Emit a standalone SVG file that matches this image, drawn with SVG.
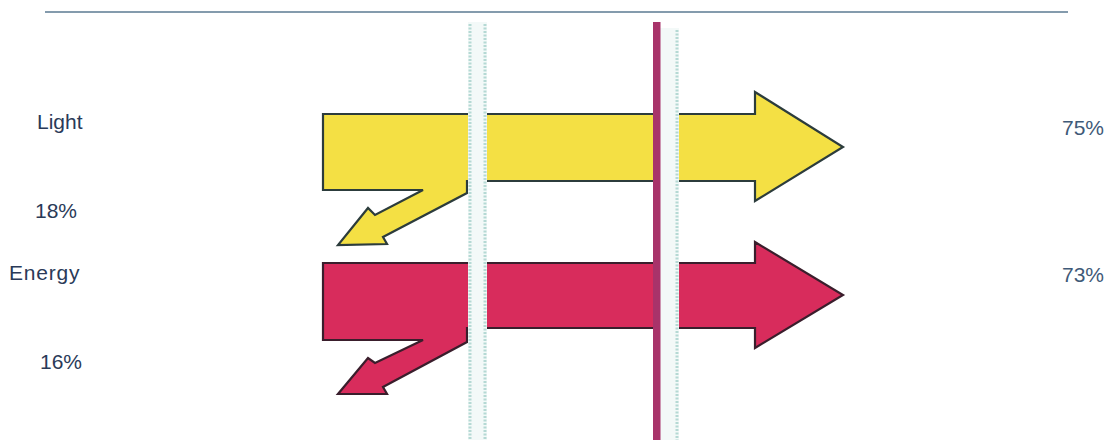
<svg xmlns="http://www.w3.org/2000/svg" width="1108" height="440" viewBox="0 0 1108 440">
  <style>
    .lbl { font-family: "Liberation Sans", Arial, sans-serif; font-size: 21px; fill: #2a3a58; }
    .pct { font-family: "Liberation Sans", Arial, sans-serif; font-size: 21px; fill: #3f5a78; }
    .yel { fill: #f4e044; stroke: #2c3c3c; stroke-width: 2.2; stroke-linejoin: miter; }
    .red { fill: #d82c5c; stroke: #3a1e2c; stroke-width: 2.2; stroke-linejoin: miter; }
    .band { fill: #f3f9f8; }
    .bandEdge { stroke: #b5d9d4; stroke-width: 3; stroke-dasharray: 2 1.5; fill: none; }
  </style>
  <rect width="1108" height="440" fill="#ffffff"/>
  <line x1="45" y1="12" x2="1068" y2="12" stroke="#5b7a92" stroke-width="1.6"/>

  <g id="flows">
    <g id="light-arrow">
      <polygon class="yel" points="323,114 755,114 755,92 843,147 755,201 755,181 467,181 467,193 383,237 387,244 338,245 368,208 375,215 423,190 323,190"/>
    </g>
    <g id="energy-arrow">
      <polygon class="red" points="323,263 755,263 755,242 843,295 755,348 755,328 467,328 467,342 383,387 387,394 338,394 368,358 375,363 423,340 323,340"/>
    </g>
  </g>

  <g id="left-pane">
    <rect class="band" x="468" y="22" width="19" height="418"/>
    <line class="bandEdge" x1="470" y1="24" x2="470" y2="440"/>
    <line class="bandEdge" x1="485" y1="24" x2="485" y2="440"/>
  </g>
  <g id="right-pane">
    <rect class="band" x="660" y="28" width="19" height="412"/>
    <line class="bandEdge" x1="677" y1="30" x2="677" y2="440"/>
  </g>
  <g id="divider">
    <rect x="653" y="22" width="7.5" height="418" fill="#a8336a"/>
  </g>

  <g id="label-light"><text class="lbl" x="37" y="129">Light</text></g>
  <g id="label-18"><text class="lbl" x="35" y="218">18%</text></g>
  <g id="label-energy"><text class="lbl" x="9" y="280" letter-spacing="0.8">Energy</text></g>
  <g id="label-16"><text class="lbl" x="40" y="369">16%</text></g>
  <g id="label-75"><text class="pct" x="1062" y="135">75%</text></g>
  <g id="label-73"><text class="pct" x="1062" y="282">73%</text></g>
</svg>
